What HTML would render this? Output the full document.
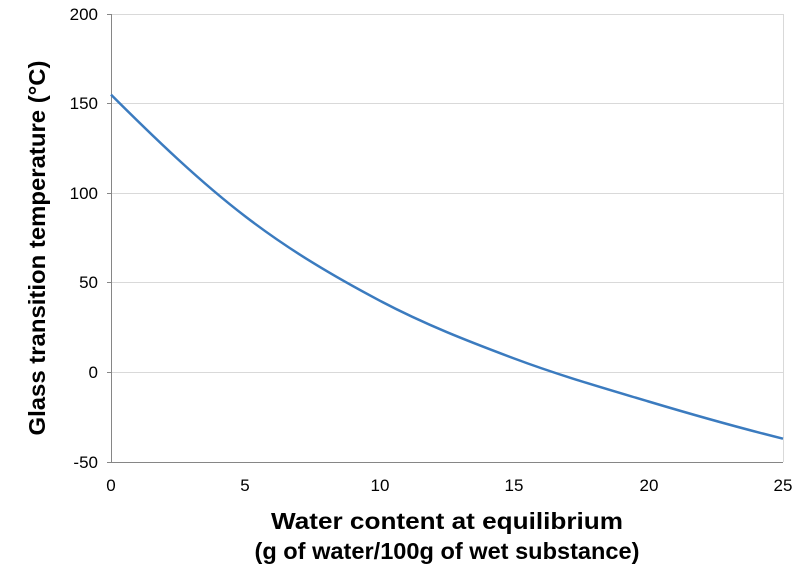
<!DOCTYPE html>
<html><head><meta charset="utf-8"><style>
html,body{margin:0;padding:0;background:#fff;}
svg{display:block;font-family:"Liberation Sans",Arial,sans-serif;}
</style></head><body>
<svg width="799" height="577" viewBox="0 0 799 577">
<g stroke="#d9d9d9" stroke-width="1">
<line x1="111" y1="14.5" x2="783" y2="14.5"/>
<line x1="111" y1="103.5" x2="783" y2="103.5"/>
<line x1="111" y1="193.5" x2="783" y2="193.5"/>
<line x1="111" y1="282.5" x2="783" y2="282.5"/>
<line x1="111" y1="372.5" x2="783" y2="372.5"/>
<line x1="783.5" y1="14" x2="783.5" y2="462"/>
</g>
<g stroke="#868686" stroke-width="1">
<line x1="111.5" y1="14" x2="111.5" y2="462"/>
<line x1="111" y1="462.5" x2="783" y2="462.5"/>
<line x1="107" y1="14.5" x2="111" y2="14.5"/>
<line x1="107" y1="103.5" x2="111" y2="103.5"/>
<line x1="107" y1="193.5" x2="111" y2="193.5"/>
<line x1="107" y1="282.5" x2="111" y2="282.5"/>
<line x1="107" y1="372.5" x2="111" y2="372.5"/>
<line x1="107" y1="462.5" x2="111" y2="462.5"/>
</g>
<g font-size="17" fill="#000" text-anchor="end">
<text x="98" y="20">200</text>
<text x="98" y="109">150</text>
<text x="98" y="199">100</text>
<text x="98" y="288">50</text>
<text x="98" y="378">0</text>
<text x="98" y="468">-50</text>
</g>
<g font-size="17" fill="#000" text-anchor="middle">
<text x="111" y="491">0</text>
<text x="245" y="491">5</text>
<text x="380" y="491">10</text>
<text x="514" y="491">15</text>
<text x="649" y="491">20</text>
<text x="783" y="491">25</text>
</g>
<path d="M111,94.6 C155.8,139.4 200.6,182.2 245.4,216.5 C290.2,250.9 335,277 379.8,300.7 C424.6,324.4 469.4,341.7 514.2,358.5 C559,375.3 603.8,388.1 648.6,401.5 C693.4,414.9 738.2,427.5 783,438.7" fill="none" stroke="#3b7bbf" stroke-width="2.5"/>
<g font-size="23" font-weight="bold" fill="#000" text-anchor="middle">
<text x="447" y="529" textLength="352" lengthAdjust="spacingAndGlyphs">Water content at equilibrium</text>
<text x="447" y="559" textLength="385" lengthAdjust="spacingAndGlyphs">(g of water/100g of wet substance)</text>
<text transform="translate(45,248) rotate(-90)" textLength="375" lengthAdjust="spacingAndGlyphs">Glass transition temperature (°C)</text>
</g>
</svg>
</body></html>
